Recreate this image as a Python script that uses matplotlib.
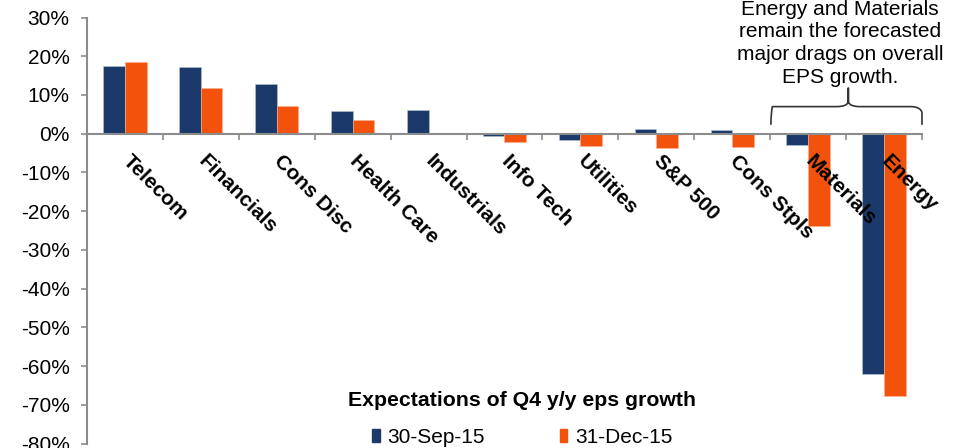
import numpy as np
import matplotlib
matplotlib.use("Agg")
import matplotlib.pyplot as plt
from matplotlib.path import Path
from matplotlib.patches import PathPatch, Patch

plt.rcParams['font.family'] = ['Liberation Sans', 'DejaVu Sans']

sectors = ["Telecom", "Financials", "Cons Disc", "Health Care", "Industrials",
           "Info Tech", "Utilities", "S&P 500", "Cons Stpls", "Materials", "Energy"]
sep15 = [17.6, 17.1, 12.9, 5.8, 6.1, -0.7, -1.7, 1.2, 0.9, -2.9, -62.0]
dec15 = [18.6, 11.7, 7.2, 3.5, 0.0, -2.2, -3.1, -3.8, -3.3, -23.8, -67.7]
series_names = ["30-Sep-15", "31-Dec-15"]
yticks = np.arange(-80, 31, 10)

navy = "#1b3a6b"
orange = "#f2520c"
gray = "#8c8c8c"

fig = plt.figure(figsize=(9.57, 4.48), dpi=100)
ax = fig.add_axes([0.0909, 0.0098, 0.8725, 0.9511])

x = np.arange(len(sectors))
w = 0.285
ax.bar(x - w / 2, sep15, w, color=navy, edgecolor="#b8c4d6", linewidth=0.4, zorder=2)
ax.bar(x + w / 2, dec15, w, color=orange, edgecolor="#f7b08f", linewidth=0.4, zorder=2)

ax.set_xlim(-0.5, len(sectors) - 0.5)
ax.set_ylim(-80, 30)
ax.set_yticks(yticks)
ax.set_yticklabels([f"{v}%" for v in yticks], fontsize=15)
ax.tick_params(axis="y", direction="out", length=4, color=gray, width=1.2, pad=8.5)

for s in ["top", "right"]:
    ax.spines[s].set_visible(False)
ax.spines["left"].set_color(gray)
ax.spines["left"].set_linewidth(1.5)
ax.spines["bottom"].set_position(("data", 0))
ax.spines["bottom"].set_color(gray)
ax.spines["bottom"].set_linewidth(1.5)
ax.spines["bottom"].set_zorder(3)

ax.set_xticks(x)
ax.set_xticklabels([])
ax.tick_params(axis="x", which="major", length=0)
ax.set_xticks(np.arange(0.5, len(sectors), 1.0), minor=True)
ax.tick_params(axis="x", which="minor", direction="out", length=4, color=gray, width=1.2)

# category labels drawn over the bars
for i, name in enumerate(sectors):
    ax.annotate(name, xy=(i, 0), xytext=(5, -12.5), textcoords="offset points",
                rotation=-45, ha="left", va="top", rotation_mode="anchor",
                fontsize=15, fontweight="bold", zorder=5)

# brace over Materials and Energy
x0, x1 = 8.51, 10.5
xm = 9.53
yb, yh, yp = 2.3, 7.0, 11.9
verts = [(x0, yb), (x0, yh - 1.5), (x0 + 0.02, yh), (x0 + 0.15, yh),
         (xm - 0.15, yh), (xm - 0.02, yh), (xm, yh + 1.2), (xm, yp),
         (xm, yh + 1.2), (xm + 0.02, yh), (xm + 0.15, yh),
         (x1 - 0.15, yh), (x1 - 0.02, yh), (x1, yh - 1.5), (x1, yb)]
codes = [Path.MOVETO, Path.CURVE3, Path.CURVE3, Path.LINETO,
         Path.LINETO, Path.CURVE3, Path.CURVE3, Path.LINETO,
         Path.LINETO, Path.CURVE3, Path.CURVE3,
         Path.LINETO, Path.CURVE3, Path.CURVE3, Path.LINETO]
ax.add_patch(PathPatch(Path(verts, codes), fill=False, color="#333333", lw=1.2, clip_on=False))

ax.text(9.42, 12.1,
        "Energy and Materials\nremain the forecasted\nmajor drags on overall\nEPS growth.",
        ha="center", va="bottom", fontsize=15, linespacing=1.25, clip_on=False)

handles = [Patch(color=navy), Patch(color=orange)]
leg = ax.legend(handles, series_names, ncol=2, loc="center",
                bbox_to_anchor=(0.521, 0.058), frameon=False, fontsize=15,
                title="Expectations of Q4 y/y eps growth",
                title_fontproperties={"weight": "bold", "size": 15.3},
                handlelength=0.38, handleheight=0.6, handletextpad=0.35,
                columnspacing=3.6, borderpad=0)
leg._legend_box.sep = 13

fig.savefig("out.png", dpi=100)
